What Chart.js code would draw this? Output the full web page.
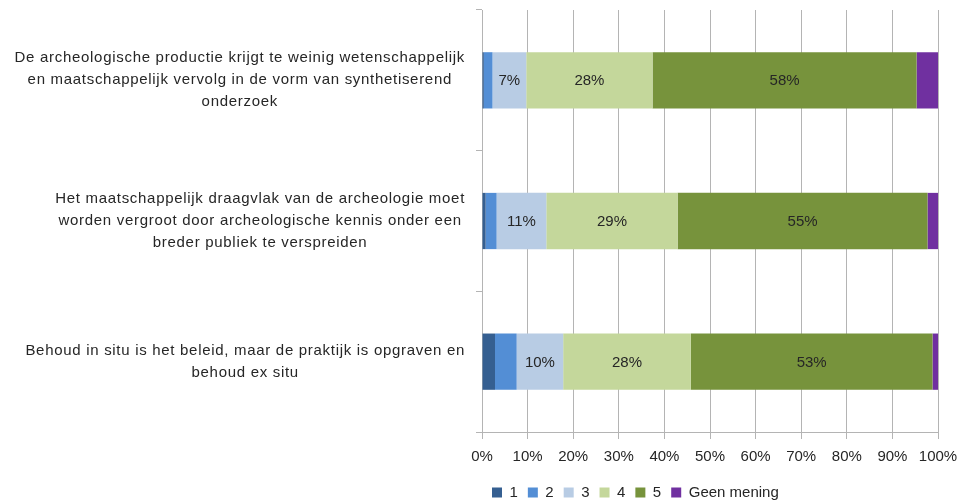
<!DOCTYPE html>
<html>
<head>
<meta charset="utf-8">
<script src="https://cdn.jsdelivr.net/npm/chart.js@4"></script>
<style>
  html, body { margin: 0; padding: 0; background: #fff; }
  #wrap { width: 959px; height: 503px; position: relative; }
</style>
</head>
<body>
<div id="wrap"><canvas id="chart"></canvas></div>
<script>
// statements, one per bar (pre-wrapped lines)
const categories = [
  ['De archeologische productie krijgt te weinig wetenschappelijk',
   'en maatschappelijk vervolg in de vorm van synthetiserend',
   'onderzoek'],
  ['Het maatschappelijk draagvlak van de archeologie moet',
   'worden vergroot door archeologische kennis onder een',
   'breder publiek te verspreiden'],
  ['Behoud in situ is het beleid, maar de praktijk is opgraven en',
   'behoud ex situ']
];

// answer shares in percent, per statement
const answer1 = [0.4, 0.8, 2.85];
const answer2 = [1.9, 2.4, 4.75];
const answer3 = [7.4, 10.9, 10.2];
const answer4 = [27.7, 28.8, 28.0];
const answer5 = [57.9, 54.8, 53.0];
const noOpinion = [4.7, 2.3, 1.2];

const seriesNames = ['1', '2', '3', '4', '5', 'Geen mening'];
const xTicks = [0, 10, 20, 30, 40, 50, 60, 70, 80, 90, 100];

const FONT = '"Liberation Sans", Arial, sans-serif';
const TEXT = '#262626';
const GRID = '#b4b4b4';

const series = [answer1, answer2, answer3, answer4, answer5, noOpinion];
const colors = ['#355f91', '#538ed5', '#b8cce4', '#c4d79b', '#77933c', '#7030a0'];
const labelled = [false, false, true, true, true, false];

// value labels in the middle of the segments
const segmentLabels = {
  id: 'segmentLabels',
  afterDatasetsDraw(chart) {
    const ctx = chart.ctx;
    ctx.save();
    ctx.font = '15px ' + FONT;
    ctx.fillStyle = TEXT;
    ctx.textAlign = 'center';
    ctx.textBaseline = 'middle';
    chart.data.datasets.forEach((ds, i) => {
      if (!labelled[i]) return;
      chart.getDatasetMeta(i).data.forEach((bar, j) => {
        const p = bar.getProps(['x', 'y', 'base'], true);
        ctx.fillText(Math.round(ds.data[j]) + '%', (p.x + p.base) / 2, p.y + 1);
      });
    });
    ctx.restore();
  }
};

// category labels: each block right aligned next to the axis, lines centred in the block
const categoryLabels = {
  id: 'categoryLabels',
  afterDraw(chart) {
    const ctx = chart.ctx;
    const yScale = chart.scales.y;
    const lineH = 22;
    ctx.save();
    ctx.font = '15px ' + FONT;
    ctx.letterSpacing = '0.7px';
    ctx.fillStyle = TEXT;
    ctx.textAlign = 'center';
    ctx.textBaseline = 'middle';
    categories.forEach((lines, i) => {
      const maxW = Math.max(...lines.map(l => ctx.measureText(l).width));
      const right = yScale.right - 17;
      const cx = right - maxW / 2;
      const cy = yScale.getPixelForValue(i);
      const top = cy - (lines.length - 1) * lineH / 2;
      lines.forEach((l, k) => ctx.fillText(l, cx, top + k * lineH));
    });
    ctx.restore();
  }
};

const ctx = document.getElementById('chart').getContext('2d');
new Chart(ctx, {
  type: 'bar',
  data: {
    labels: categories.map(c => c.join(' ')),
    datasets: series.map((data, i) => ({
      label: seriesNames[i],
      data: data,
      backgroundColor: colors[i],
      borderWidth: 0,
      barPercentage: 0.4,
      categoryPercentage: 1
    }))
  },
  options: {
    indexAxis: 'y',
    responsive: true,
    maintainAspectRatio: false,
    animation: false,
    layout: { padding: { top: 10, right: 21, left: 0, bottom: -7 } },
    scales: {
      x: {
        stacked: true,
        min: 0,
        max: 100,
        afterBuildTicks: scale => { scale.ticks = xTicks.map(v => ({ value: v })); },
        afterFit: scale => {
          // keep the plot edge fixed, the last label may overhang
          scale.paddingRight = 21;
          scale.paddingLeft = 0;
        },
        ticks: {
          font: { family: FONT, size: 15 },
          color: TEXT,
          padding: 9,
          maxRotation: 0,
          callback: v => v + '%'
        },
        grid: { color: GRID, lineWidth: 1, tickLength: 7 },
        border: { color: GRID }
      },
      y: {
        stacked: true,
        ticks: { display: false },
        afterFit: scale => { scale.width = 482; },
        grid: { drawOnChartArea: false, color: GRID, tickLength: 6 },
        border: { color: GRID }
      }
    },
    plugins: {
      legend: {
        position: 'bottom',
        align: 'start',
        fullSize: false,
        labels: {
          boxWidth: 10,
          boxHeight: 10,
          padding: 10,
          color: TEXT,
          font: { family: FONT, size: 15 }
        }
      },
      tooltip: { enabled: false }
    }
  },
  plugins: [segmentLabels, categoryLabels]
});
</script>
</body>
</html>
